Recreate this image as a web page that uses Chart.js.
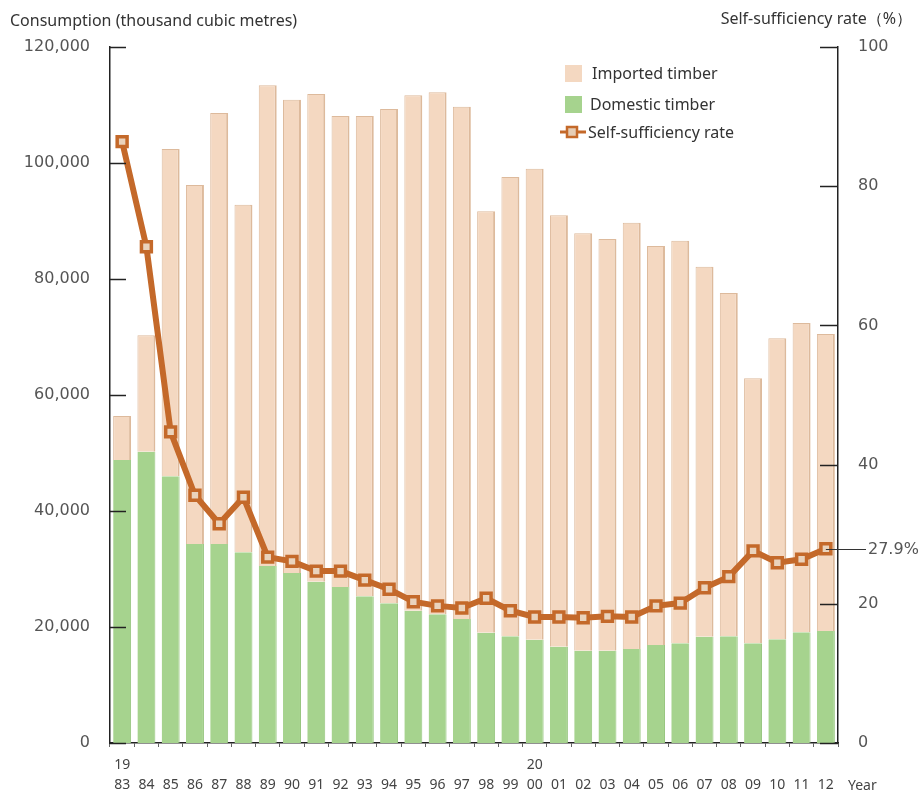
<!DOCTYPE html>
<html>
<head>
<meta charset="utf-8">
<script src="https://cdn.jsdelivr.net/npm/chart.js@4"></script>
<style>
  body { margin: 0; background: #fff; }
  #wrap { width: 923px; height: 796px; }
</style>
</head>
<body>
<div id="wrap"><canvas id="myChart" width="923" height="796"></canvas></div>
<script>
// years 1983-2012, two-line tick labels (century shown only at 1983 and 2000)
const tickLabels = [
  ["19", "83"], ["", "84"], ["", "85"], ["", "86"], ["", "87"], ["", "88"],
  ["", "89"], ["", "90"], ["", "91"], ["", "92"], ["", "93"], ["", "94"],
  ["", "95"], ["", "96"], ["", "97"], ["", "98"], ["", "99"], ["20", "00"],
  ["", "01"], ["", "02"], ["", "03"], ["", "04"], ["", "05"], ["", "06"],
  ["", "07"], ["", "08"], ["", "09"], ["", "10"], ["", "11"], ["", "12"],
];

// thousand cubic metres
const domestic = [
  48800, 50200, 46000, 34300, 34300, 32900, 30500, 29300, 27800, 26900,
  25300, 24100, 22800, 22200, 21400, 19000, 18400, 17800, 16600, 15900,
  15900, 16200, 16900, 17200, 18300, 18400, 17200, 17900, 19100, 19300,
];
const imported = [
  7600, 20100, 56400, 61900, 74300, 59900, 82900, 81600, 84100, 81200,
  82800, 85200, 88900, 90000, 88300, 72700, 79200, 81200, 74400, 72000,
  71000, 73500, 68800, 69400, 63800, 59200, 45700, 51900, 53300, 51200,
];
// %
const selfRate = [
  86.4, 71.3, 44.7, 35.6, 31.5, 35.3, 26.7, 26.1, 24.7, 24.7,
  23.4, 22.1, 20.3, 19.7, 19.4, 20.8, 19.0, 18.1, 18.1, 18.0,
  18.2, 18.1, 19.7, 20.1, 22.3, 23.9, 27.6, 25.9, 26.4, 27.9,
];

const leftTicks = [0, 20000, 40000, 60000, 80000, 100000, 120000];
const rightTicks = [0, 20, 40, 60, 80, 100];

const peach = "#F4D8C1";
const green = "#A6D38E";
const rust = "#C4692A";
const textColor = "#444";

// extra drawing: titles, inward ticks, legend, end label
const decorations = {
  id: "decorations",
  afterDraw(chart) {
    const { ctx, scales, chartArea } = chart;
    const yl = scales.y, yr = scales.y1;
    ctx.save();

    // axis titles
    ctx.fillStyle = "#333";
    ctx.font = "16px 'Noto Sans'";
    ctx.textBaseline = "middle";
    ctx.textAlign = "left";
    ctx.fillText("Consumption (thousand cubic metres)", 10, 21);
    ctx.textAlign = "right";
    ctx.fillText("Self-sufficiency rate（%）", 912, 19);

    // inward tick marks
    ctx.strokeStyle = "#222";
    ctx.lineWidth = 1.5;
    leftTicks.forEach((v) => {
      const y = Math.round(yl.getPixelForValue(v)) + 0.5;
      ctx.beginPath();
      ctx.moveTo(chartArea.left, y);
      ctx.lineTo(chartArea.left + 16, y);
      ctx.stroke();
    });
    rightTicks.forEach((v) => {
      const y = Math.round(yr.getPixelForValue(v)) + 0.5;
      ctx.beginPath();
      ctx.moveTo(chartArea.right - 18, y);
      ctx.lineTo(chartArea.right, y);
      ctx.stroke();
    });

    // "Year"
    ctx.fillStyle = textColor;
    ctx.font = "14px 'Noto Sans'";
    ctx.textAlign = "left";
    ctx.textBaseline = "middle";
    ctx.fillText("Year", 848, 786);

    // 27.9% end label
    const last = selfRate.length - 1;
    const meta = chart.getDatasetMeta(2);
    const pt = meta.data[last];
    ctx.strokeStyle = "#333";
    ctx.lineWidth = 1;
    ctx.beginPath();
    ctx.moveTo(pt.x, Math.round(pt.y) + 0.5);
    ctx.lineTo(866, Math.round(pt.y) + 0.5);
    ctx.stroke();
    ctx.fillStyle = "#555";
    ctx.font = "16px 'DejaVu Sans'";
    ctx.fillText(selfRate[last].toFixed(1) + "%", 868, pt.y + 1);

    // legend
    const lx = 565;
    ctx.font = "16px 'Noto Sans'";
    ctx.fillStyle = peach;
    ctx.fillRect(lx, 65, 17, 17);
    ctx.fillStyle = green;
    ctx.fillRect(lx, 96, 17, 17);
    ctx.fillStyle = "#333";
    ctx.fillText(chart.data.datasets[1].label, 592, 74);
    ctx.fillText(chart.data.datasets[0].label, 590, 105);
    ctx.strokeStyle = rust;
    ctx.lineWidth = 3;
    ctx.beginPath();
    ctx.moveTo(560, 132);
    ctx.lineTo(586, 132);
    ctx.stroke();
    ctx.fillStyle = "#E6CDB5";
    ctx.lineWidth = 2.5;
    ctx.fillRect(567, 127, 10, 10);
    ctx.strokeRect(567, 127, 10, 10);
    ctx.fillStyle = "#333";
    ctx.fillText(chart.data.datasets[2].label, 588, 133);

    ctx.restore();
  },
};

const ctx = document.getElementById("myChart").getContext("2d");
const myChart = new Chart(ctx, {
  type: "bar",
  data: {
    labels: tickLabels,
    datasets: [
      {
        label: "Domestic timber",
        data: domestic,
        backgroundColor: green,
        borderColor: "#96C57E",
        borderWidth: { left: 0, right: 1, top: 0, bottom: 0 },
        borderSkipped: false,
        yAxisID: "y",
        stack: "wood",
        order: 2,
        barPercentage: 0.74,
        categoryPercentage: 1,
      },
      {
        label: "Imported timber",
        data: imported,
        backgroundColor: peach,
        borderColor: "#DDBA9C",
        borderWidth: { left: 1, right: 2, top: 1, bottom: 0 },
        borderSkipped: false,
        yAxisID: "y",
        stack: "wood",
        order: 2,
        barPercentage: 0.74,
        categoryPercentage: 1,
      },
      {
        type: "line",
        label: "Self-sufficiency rate",
        data: selfRate,
        yAxisID: "y1",
        borderColor: rust,
        borderWidth: 6,
        pointStyle: "rect",
        pointRadius: 7,
        pointBorderWidth: 3.5,
        pointBorderColor: rust,
        pointBackgroundColor: "#EAD3BC",
        tension: 0,
        order: 0,
      },
    ],
  },
  options: {
    responsive: false,
    animation: false,
    layout: { padding: { top: 47, left: 0, right: 0, bottom: 0 } },
    plugins: {
      legend: { display: false },
      tooltip: { enabled: false },
    },
    scales: {
      x: {
        stacked: true,
        offset: true,
        grid: {
          display: true,
          offset: true,
          drawOnChartArea: false,
          drawTicks: true,
          tickLength: 4,
          color: "#666",
        },
        border: { display: true, color: "#222", width: 1.5 },
        ticks: {
          color: textColor,
          font: { family: "Noto Sans", size: 14, lineHeight: 1.45 },
          maxRotation: 0,
          autoSkip: false,
          padding: 8,
        },
        afterFit(scale) { scale.height = 53; },
      },
      y: {
        position: "left",
        stacked: true,
        min: 0,
        max: 120000,
        afterBuildTicks(scale) { scale.ticks = leftTicks.map((v) => ({ value: v })); },
        grid: { display: false },
        border: { display: true, color: "#222", width: 1.5 },
        ticks: {
          color: "#555",
          font: { family: "DejaVu Sans", size: 16 },
          padding: 12,
          callback: (v) => v.toLocaleString("en-US"),
        },
        afterFit(scale) { scale.width = 110; },
      },
      y1: {
        position: "right",
        min: 0,
        max: 100,
        afterBuildTicks(scale) { scale.ticks = rightTicks.map((v) => ({ value: v })); },
        grid: { display: false },
        border: { display: true, color: "#222", width: 1.5 },
        ticks: {
          color: "#555",
          font: { family: "DejaVu Sans", size: 16 },
          padding: 12,
        },
        afterFit(scale) { scale.width = 85; },
      },
    },
  },
  plugins: [decorations],
});
</script>
</body>
</html>
